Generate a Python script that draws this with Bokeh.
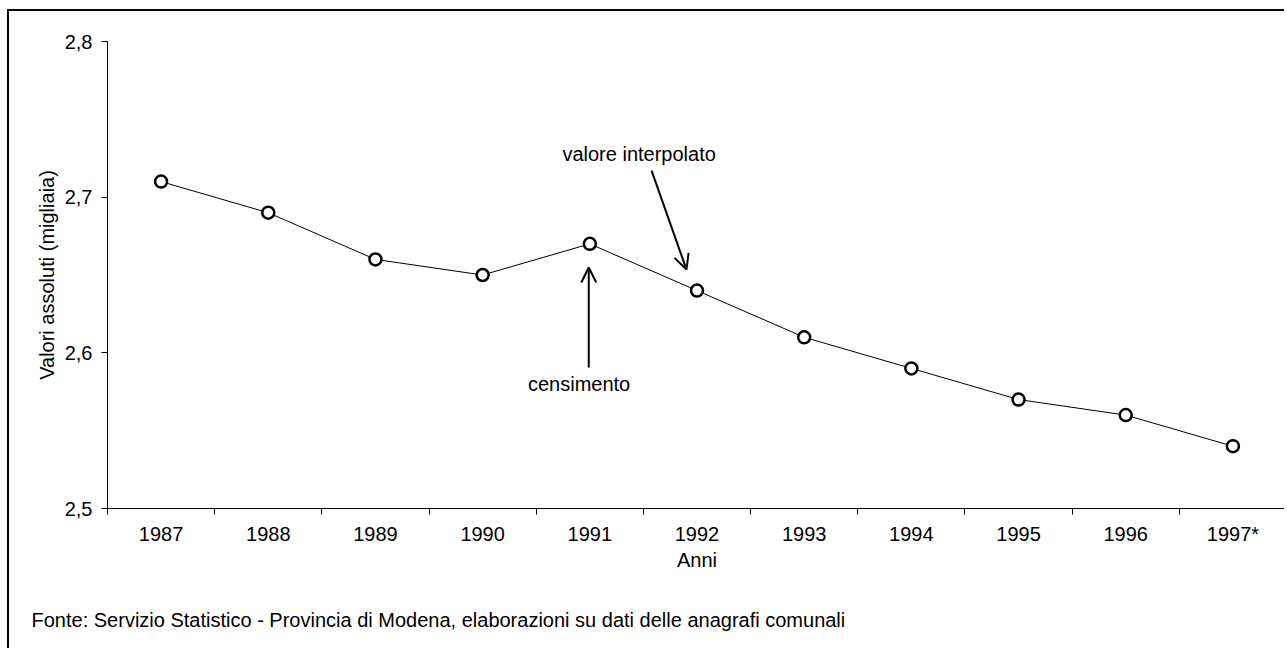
from bokeh.plotting import figure
from bokeh.models import FixedTicker, Arrow, OpenHead, Label, Title
from bokeh.embed import file_html
from bokeh.resources import INLINE

years = ["1987", "1988", "1989", "1990", "1991", "1992", "1993", "1994", "1995", "1996", "1997*"]
values = [2.71, 2.69, 2.66, 2.65, 2.67, 2.64, 2.61, 2.59, 2.57, 2.56, 2.54]
y_ticks = [2.5, 2.6, 2.7, 2.8]
y_tick_labels = ["2,5", "2,6", "2,7", "2,8"]
x_title = "Anni"
y_title = "Valori assoluti (migliaia)"
source_text = "Fonte: Servizio Statistico - Provincia di Modena, elaborazioni su dati delle anagrafi comunali"

FONT = "Liberation Sans"
FS = "20px"

xs = [i + 0.5 for i in range(len(years))]

p = figure(width=1277, height=639, output_backend="svg", toolbar_location=None,
           x_range=(0, len(years)), y_range=(y_ticks[0], y_ticks[-1]),
           min_border_left=98, min_border_top=30, min_border_right=0, min_border_bottom=142)
p.styles = {"margin-left": "7px", "margin-top": "9px",
            "border-left": "2px solid black", "border-top": "2px solid black"}
p.outline_line_color = None
p.xgrid.visible = False
p.ygrid.visible = False
p.background_fill_color = "white"
p.border_fill_color = "white"

# x axis
p.xaxis.ticker = FixedTicker(ticks=xs, minor_ticks=list(range(len(years) + 1)))
p.xaxis.major_label_overrides = {x: lab for x, lab in zip(xs, years)}
p.xaxis.major_tick_line_color = None
p.xaxis.major_tick_out = 6
p.xaxis.major_tick_in = 0
p.xaxis.minor_tick_out = 6
p.xaxis.minor_tick_in = 0
p.xaxis.minor_tick_line_color = "black"
p.xaxis.major_label_standoff = 8
p.xaxis.axis_label = x_title
p.xaxis.axis_label_standoff = 1

# y axis
p.yaxis.ticker = FixedTicker(ticks=y_ticks, minor_ticks=[])
p.yaxis.major_label_overrides = {v: lab for v, lab in zip(y_ticks, y_tick_labels)}
p.yaxis.major_tick_out = 6
p.yaxis.major_tick_in = 0
p.yaxis.major_tick_line_color = "black"
p.yaxis.major_label_standoff = 9
p.yaxis.axis_label = y_title
p.yaxis.axis_label_standoff = 4

for ax in (p.xaxis, p.yaxis):
    ax.axis_line_color = "black"
    ax.major_label_text_font = FONT
    ax.major_label_text_font_size = FS
    ax.major_label_text_color = "black"
    ax.axis_label_text_font = FONT
    ax.axis_label_text_font_size = FS
    ax.axis_label_text_font_style = "normal"
    ax.axis_label_text_color = "black"

p.line(xs, values, line_color="black", line_width=1)
p.scatter(xs, values, size=12, marker="circle", fill_color="white",
          line_color="black", line_width=2.5)

# annotations
p.add_layout(Arrow(end=OpenHead(size=15, line_width=2, line_color="black"),
                   x_start=4.49, y_start=2.5906, x_end=4.49, y_end=2.6548,
                   line_width=2, line_color="black"))
p.add_layout(Label(x=4.40, y=2.580, text="censimento", text_align="center",
                   text_baseline="middle", text_font=FONT, text_font_size=FS,
                   text_color="black"))
p.add_layout(Arrow(end=OpenHead(size=15, line_width=2, line_color="black"),
                   x_start=5.076, y_start=2.7171, x_end=5.402, y_end=2.6535,
                   line_width=2, line_color="black"))
p.add_layout(Label(x=4.96, y=2.728, text="valore interpolato", text_align="center",
                   text_baseline="middle", text_font=FONT, text_font_size=FS,
                   text_color="black"))

# spacer panel, then the source note
spacer = Title(text=" ", text_font_size="1px", standoff=30, text_color="white")
p.add_layout(spacer, "below")
src = Title(text=source_text, align="left", offset=-76, standoff=0,
            text_font=FONT, text_font_size=FS, text_font_style="normal",
            text_color="black")
p.add_layout(src, "below")

open("out.html", "w").write(file_html(p, INLINE))
